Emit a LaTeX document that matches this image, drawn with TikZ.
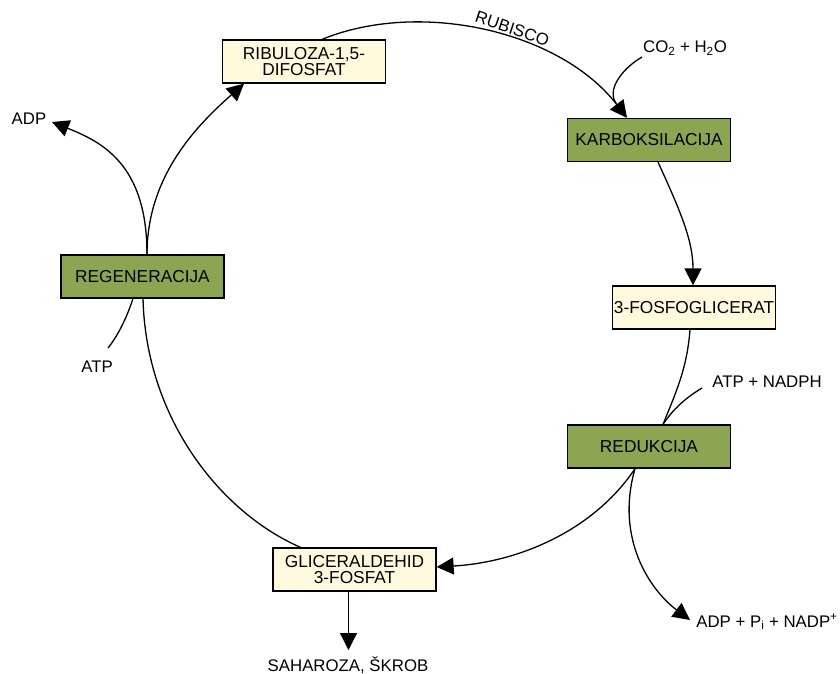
\documentclass[tikz,border=0pt]{standalone}
\usepackage{fontspec}
\setmainfont{Liberation Sans}
\usetikzlibrary{arrows.meta}
\definecolor{boxgreen}{RGB}{139,165,82}
\definecolor{boxcream}{RGB}{255,250,222}
\begin{document}
\begin{tikzpicture}[x=1pt,y=-1pt,
  box/.style={draw=black, line width=1.3pt, minimum width=163pt, minimum height=43pt,
    inner sep=0pt, align=center, font=\fontsize{17.3}{15.5}\selectfont},
  greenbox/.style={box, fill=boxgreen},
  creambox/.style={box, fill=boxcream},
  lbl/.style={inner sep=0pt, font=\fontsize{16.8}{16}\selectfont},
  conn/.style={line width=1.3pt, draw=black},
  arr/.style={conn, -{Triangle[length=17pt,width=17pt]}}]
\useasboundingbox (0,0) rectangle (840,674);
% boxes
\node[creambox] (rib) at (304,61.5) {RIBULOZA-1,5-\\DIFOSFAT};
\node[greenbox] (karb) at (649,140) {KARBOKSILACIJA};
\node[creambox] (fos) at (694,307.5) {3-FOSFOGLICERAT};
\node[greenbox] (red) at (649,446.5) {REDUKCIJA};
\node[creambox] (gli) at (354.5,569.5) {GLICERALDEHID\\3-FOSFAT};
\node[greenbox] (reg) at (142.5,276.5) {REGENERACIJA};
% labels
\node[lbl] (adp) at (29,119) {ADP};
\node[lbl] (atp) at (97,367) {ATP};
\node[lbl] (co2) at (685,48) {CO\textsubscript{2} + H\textsubscript{2}O};
\node[lbl] (atpn) at (767,382) {ATP + NADPH};
\node[lbl] (adpn) at (767,622) {ADP + P\textsubscript{i} + NADP\textsuperscript{+}};
\node[lbl] (sah) at (348,665) {SAHAROZA, ŠKROB};
% free ends
\coordinate (co2end) at (642,57);
\coordinate (co2join) at (616,103);
\coordinate (atpnend) at (702,388);
\coordinate (atpend) at (108,348);
\coordinate (adptip) at (52,122);
\coordinate (adpntip) at (690,620);
% cycle
\draw[arr] ([xshift=18pt]rib.north) .. controls +(98,-40) and +(-67,-87) .. ([xshift=-22pt]karb.north)
  node[pos=0.57, above=3pt, sloped, lbl] (rubisco) {RUBISCO};
\draw[conn] (co2end) .. controls +(-22,13) and +(-9,-12) .. (co2join);
\draw[arr] ([xshift=9pt]karb.south) .. controls +(22,48) and +(0,-45) .. ([xshift=-1pt]fos.north);
\draw[conn] ([xshift=-4pt]fos.south) .. controls +(-3,40) and +(12,-30) .. ([xshift=14pt]red.north);
\draw[conn] (atpnend) .. controls +(-20,12) and +(8,-12) .. ([xshift=14pt]red.north);
\draw[arr] ([xshift=-14pt]red.south) .. controls +(-40,60) and +(85,-5) .. ([yshift=2.5pt]gli.east);
\draw[arr] ([xshift=-14pt]red.south) .. controls +(-20,70) and +(-40,-30) .. (adpntip);
\draw[arr] ([xshift=-6pt]gli.south) -- ([xshift=-6pt]gli.south |- 0,650);
\draw[conn] ([xshift=-54pt]gli.north) .. controls +(-80,-35) and +(3,120) .. ([xshift=0.5pt]reg.south);
\draw[conn] (atpend) .. controls +(12,-15) and +(-5,15) .. ([xshift=-9.5pt]reg.south);
\draw[arr] ([xshift=4.5pt]reg.north) .. controls +(0,-80) and +(-45,40) .. ([xshift=-60pt]rib.south);
\draw[arr] ([xshift=4.5pt]reg.north) .. controls +(0,-90) and +(50,20) .. (adptip);
\end{tikzpicture}
\end{document}
